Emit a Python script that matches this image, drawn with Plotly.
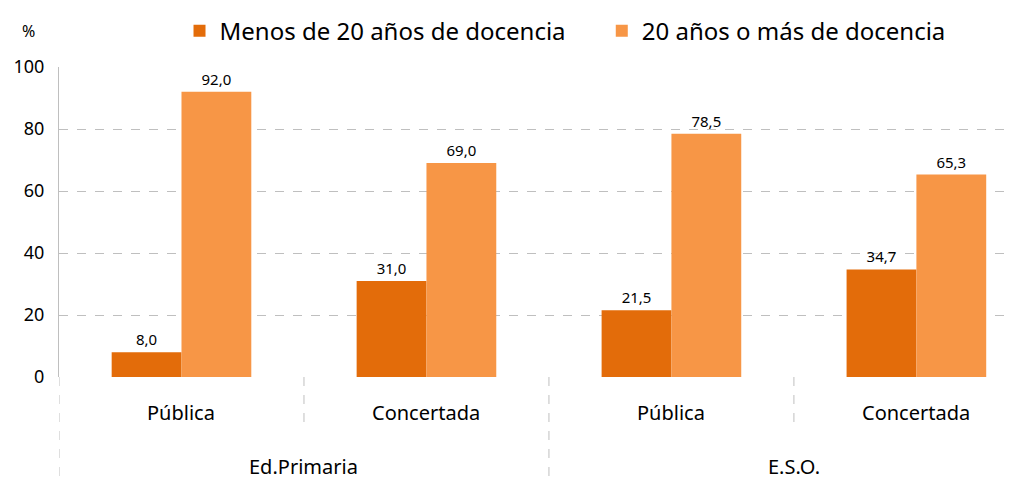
import plotly.graph_objects as go

subcats = ["Pública", "Concertada", "Pública", "Concertada"]
groups = ["Ed.Primaria", "E.S.O."]
menos20 = [8.0, 31.0, 21.5, 34.7]
mas20 = [92.0, 69.0, 78.5, 65.3]
series_names = ["Menos de 20 años de docencia", "20 años o más de docencia"]
colors = ["#E36C0A", "#F79646"]
yticks = [0, 20, 40, 60, 80, 100]

FONT = "Noto Sans"
xs = list(range(len(subcats)))

fig = go.Figure()
for k, (name, vals, col) in enumerate(zip(series_names, [menos20, mas20], colors)):
    label = name + ("\u00a0" * 5 if k == 0 else "")
    fig.add_trace(go.Bar(
        x=xs, y=vals, name=label, marker_color=col,
        marker_line_width=0,
        text=[f"{v:.1f}".replace(".", ",") for v in vals],
        textposition="outside", cliponaxis=False,
        textfont=dict(family=FONT, size=15, color="#000000"),
    ))

grid = "#BFBFBF"
# page body has an 8px margin, so the figure is sized to the remaining window
fig.update_layout(
    width=1013, height=475,
    margin=dict(l=51, r=0, t=51, b=106),
    paper_bgcolor="white", plot_bgcolor="white",
    barmode="group", bargap=0.43, bargroupgap=0,
    font=dict(family=FONT, color="#000000"),
    legend=dict(orientation="h", x=0.526, xanchor="center", y=1.116, yanchor="middle",
                font=dict(family=FONT, size=24), itemwidth=30, traceorder="normal"),
    xaxis=dict(range=[-0.5, 3.427], showticklabels=False, showgrid=False,
               zeroline=False, ticks="", fixedrange=True),
    yaxis=dict(range=[0, 100], tickvals=yticks, showgrid=True, gridcolor=grid,
               griddash="dash", zeroline=False, showline=True, linecolor=grid,
               tickfont=dict(family=FONT, size=18), ticks="", ticklabelstandoff=10),
)

shapes = []
for xv, yb in [(-0.5, -0.34), (0.5, -0.167), (1.5, -0.34), (2.5, -0.167)]:
    shapes.append(dict(type="line", xref="x", yref="paper", x0=xv, x1=xv, y0=0, y1=yb,
                       line=dict(color=grid, width=1, dash="dash")))
fig.update_layout(shapes=shapes)

ann = []
for i, s in enumerate(subcats):
    ann.append(dict(x=i, y=-0.113, xref="x", yref="paper", text=s, showarrow=False,
                    font=dict(family=FONT, size=20), yanchor="middle"))
for j, g in enumerate(groups):
    ann.append(dict(x=2 * j + 0.5, y=-0.29, xref="x", yref="paper", text=g, showarrow=False,
                    font=dict(family=FONT, size=20), yanchor="middle"))
ann.append(dict(xref="paper", yref="paper", x=(12 - 51) / 962, y=1.116, text="%",
                showarrow=False, font=dict(family=FONT, size=16), yanchor="middle"))
fig.update_layout(annotations=ann)

fig.write_html("out.html")
